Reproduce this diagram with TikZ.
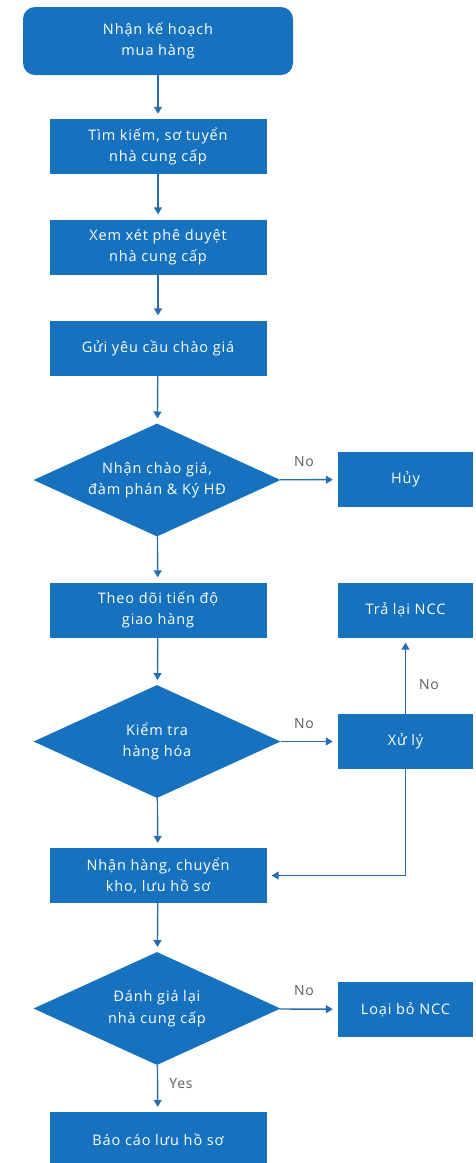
\documentclass[tikz,border=0pt]{standalone}
\usepackage{fontspec}
\setmainfont{Open Sans}[LetterSpace=6]
\usetikzlibrary{shapes.geometric,arrows.meta}
\definecolor{boxblue}{RGB}{22,114,190}
\definecolor{arrowblue}{RGB}{40,108,175}
\definecolor{lblgray}{RGB}{90,90,100}
\tikzset{
  stepbox/.style={rectangle, fill=boxblue, draw=none, text=white, minimum width=217pt, minimum height=55pt, align=center, font=\fontsize{14.5}{21.5}\selectfont, inner sep=0pt},
  sidebox/.style={stepbox, minimum width=135pt},
  startbox/.style={stepbox, rounded corners=12pt, minimum width=270pt, minimum height=68pt},
  decide/.style={diamond, fill=boxblue, draw=none, text=white, minimum width=247pt, minimum height=113pt, shape aspect=2.19, inner sep=0pt, align=center, font=\fontsize{14.5}{21.5}\selectfont},
  flow/.style={draw=arrowblue, line width=1.4pt, -{Triangle[length=7pt,width=8pt]}, shorten >=5pt},
  lbl/.style={text=lblgray, font=\fontsize{14}{15}\selectfont}
}
\begin{document}
\begin{tikzpicture}[x=1pt,y=-1pt]
\useasboundingbox (0,0) rectangle (475,1163);
\node[startbox] (s) at (158,41) {Nhận kế hoạch\\mua hàng};
\node[stepbox] (b2) at (158,146.5) {Tìm kiếm, sơ tuyển\\nhà cung cấp};
\node[stepbox] (b3) at (158,247) {Xem xét phê duyệt\\nhà cung cấp};
\node[stepbox] (b4) at (158,348) {Gửi yêu cầu chào giá};
\node[decide] (d1) at (157,480) {Nhận chào giá,\\đàm phán \& Ký HĐ};
\node[sidebox] (huy) at (405.5,479.5) {Hủy};
\node[stepbox] (b5) at (158,610) {Theo dõi tiến độ\\giao hàng};
\node[sidebox] (tra) at (405.5,610) {Trả lại NCC};
\node[decide] (d2) at (157,741.5) {Kiểm tra\\hàng hóa};
\node[sidebox] (xl) at (405.5,741.5) {Xử lý};
\node[stepbox] (b6) at (158,875.5) {Nhận hàng, chuyển\\kho, lưu hồ sơ};
\node[decide] (d3) at (157,1008.5) {Đánh giá lại\\nhà cung cấp};
\node[sidebox] (loai) at (405.5,1009.5) {Loại bỏ NCC};
\node[stepbox] (b7) at (158,1139.5) {Báo cáo lưu hồ sơ};

\draw[flow] (s) -- (b2);
\draw[flow] (b2) -- (b3);
\draw[flow] (b3) -- (b4);
\draw[flow] (b4) -- (d1);
\draw[flow] (d1) -- (huy);
\draw[flow] (d1) -- (b5);
\draw[flow] (b5) -- (d2);
\draw[flow] (d2) -- (xl);
\draw[flow] (xl) -- (tra);
\draw[flow] (xl.south) |- (b6.east);
\draw[flow] (d2) -- (b6);
\draw[flow] (b6) -- (d3);
\draw[flow] (d3) -- (loai);
\draw[flow] (d3) -- (b7);

\node[lbl] (n1) at (304,462) {No};
\node[lbl] (n2) at (304,724) {No};
\node[lbl] (n3) at (429,685) {No};
\node[lbl] (n4) at (304,991) {No};
\node[lbl] (y1) at (181,1084) {Yes};
\end{tikzpicture}
\end{document}
